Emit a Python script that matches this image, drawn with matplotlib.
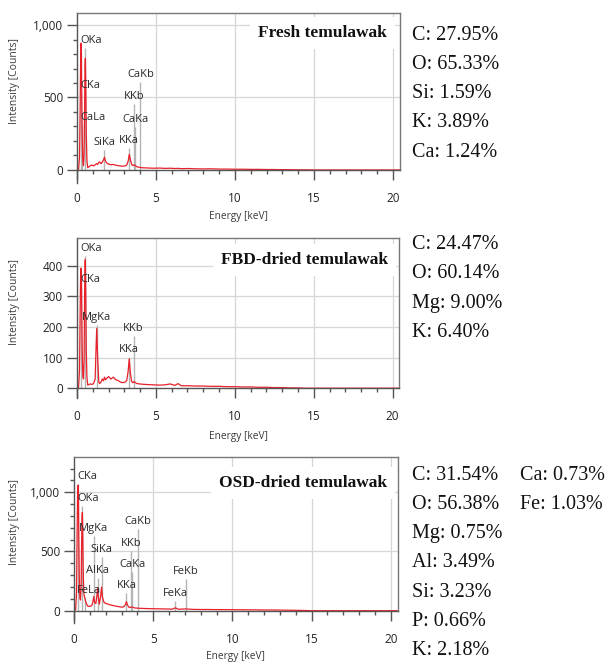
import matplotlib
matplotlib.use("Agg")
import matplotlib.pyplot as plt
from matplotlib.ticker import FixedLocator, FuncFormatter

W, H = 608, 662

# ---------------- data ----------------
energy = [0.00, 0.10, 0.16, 0.20, 0.23, 0.26, 0.28, 0.30, 0.33, 0.37,
          0.41, 0.45, 0.48, 0.51, 0.53, 0.56, 0.59, 0.63, 0.68, 0.75,
          0.85, 0.95, 1.05, 1.15, 1.20, 1.25, 1.30, 1.38, 1.44, 1.49,
          1.54, 1.60, 1.68, 1.74, 1.80, 1.90, 2.00, 2.15, 2.30, 2.45,
          2.60, 2.75, 2.90, 3.05, 3.15, 3.24, 3.31, 3.38, 3.46, 3.54,
          3.62, 3.70, 3.80, 3.95, 4.15, 4.40, 4.80, 5.20, 5.60, 5.90,
          6.20, 6.40, 6.60, 7.06, 7.50, 8.00, 8.50, 9.00, 9.50, 10.0,
          10.5, 11.0, 11.5, 12.0, 12.5, 13.0, 13.5, 14.0, 14.5, 15.0,
          20.4]

fresh_counts = [0, 4, 90, 420, 760, 875, 820, 520, 230, 60,
                30, 110, 420, 720, 770, 560, 240, 60, 15, 22,
                30, 34, 28, 36, 40, 44, 38, 52, 56, 46,
                44, 55, 70, 88, 62, 46, 40, 36, 38, 33,
                30, 27, 26, 28, 35, 62, 108, 70, 38, 30,
                36, 28, 22, 18, 15, 14, 12, 13, 11, 12,
                10, 11, 9, 10, 8, 7, 8, 6, 6, 5,
                5, 4, 4, 3, 3, 2, 2, 1, 1, 0,
                0]

fbd_counts = [0, 3, 60, 250, 370, 392, 380, 260, 120, 40,
              30, 90, 300, 415, 420, 300, 120, 35, 10, 12,
              14, 12, 15, 30, 120, 195, 110, 20, 15, 18,
              22, 30, 24, 36, 28, 33, 38, 30, 36, 28,
              25, 20, 18, 20, 25, 55, 96, 50, 22, 18,
              22, 18, 15, 14, 13, 12, 11, 10, 11, 14,
              9, 15, 8, 8, 7, 7, 6, 6, 5, 5,
              4, 4, 3, 3, 2, 2, 1, 1, 0, 0,
              0]

osd_counts = [0, 6, 150, 700, 1000, 1060, 980, 650, 300, 110,
              90, 200, 560, 800, 830, 600, 280, 140, 110, 70,
              40, 36, 38, 50, 80, 120, 70, 60, 120, 190,
              110, 55, 120, 200, 110, 70, 62, 55, 48, 44,
              40, 36, 32, 30, 34, 50, 76, 48, 30, 26,
              32, 30, 24, 22, 20, 19, 17, 16, 15, 14,
              13, 24, 12, 15, 11, 10, 10, 9, 9, 8,
              8, 7, 7, 6, 6, 5, 4, 3, 2, 0,
              0]

fresh_peaks = ["CKa", "CaLa", "OKa", "SiKa", "KKa", "CaKa", "KKb", "CaKb"]
fresh_peak_energy = [0.277, 0.341, 0.525, 1.740, 3.313, 3.691, 3.590, 4.013]
fresh_peak_height = [530, 310, 840, 140, 150, 297, 455, 607]

fbd_peaks = ["CKa", "OKa", "MgKa", "KKa", "KKb"]
fbd_peak_energy = [0.277, 0.525, 1.254, 3.313, 3.590]
fbd_peak_height = [330, 430, 205, 100, 169]

osd_peaks = ["CKa", "OKa", "FeLa", "MgKa", "AlKa", "SiKa", "KKa", "CaKa",
             "KKb", "CaKb", "FeKa", "FeKb"]
osd_peak_energy = [0.277, 0.525, 0.705, 1.254, 1.487, 1.740, 3.313, 3.691,
                   3.590, 4.013, 6.404, 7.058]
osd_peak_height = [1070, 887, 107, 634, 273, 451, 147, 324, 507, 690, 82, 265]

titles = ["Fresh temulawak", "FBD-dried temulawak", "OSD-dried temulawak"]

fresh_elements = ["C", "O", "Si", "K", "Ca"]
fresh_percent = [27.95, 65.33, 1.59, 3.89, 1.24]
fbd_elements = ["C", "O", "Mg", "K"]
fbd_percent = [24.47, 60.14, 9.00, 6.40]
osd_elements = ["C", "O", "Mg", "Al", "Si", "P", "K"]
osd_percent = [31.54, 56.38, 0.75, 3.49, 3.23, 0.66, 2.18]
osd_elements2 = ["Ca", "Fe"]
osd_percent2 = [0.73, 1.03]

x_major = [0, 5, 10, 15, 20]
x_minor = list(range(0, 21))

# ---------------- style ----------------
SANS = "Open Sans"
SERIF = "Liberation Serif"
RED = "#e8202a"
GRID = "#d6d6d6"
MARK = "#b4b4b4"
SPINE = "#555555"

fig = plt.figure(figsize=(W / 100, H / 100), dpi=100)
fig.patch.set_facecolor("white")


def rect(l, r, t, b):
    return [l / W, 1 - b / H, (r - l) / W, (b - t) / H]


def panel(box, xlim, ylim, counts, names, pe, ph, ymajor, yminor, title,
          title_px, ylab_y, xlab_y, xlab_x):
    l, r, t, b = box
    ax = fig.add_axes(rect(l, r, t, b))
    ax.set_xlim(*xlim)
    ax.set_ylim(*ylim)
    ymax = ylim[1]
    # grid
    ax.vlines(x_major[1:], 0, ymax, colors=GRID, lw=0.9, zorder=0.5)
    ax.hlines(ymajor[1:], 0, xlim[1], colors=GRID, lw=0.9, zorder=0.5)
    # peak markers
    ax.vlines(pe, 0, ph, colors=MARK, lw=1.0, zorder=1.5)
    for n, e, h in zip(names, pe, ph):
        if e < 1.0:
            ax.annotate(n, (0.2, h), xytext=(0, 1.5), textcoords="offset points",
                        ha="left", va="bottom", fontsize=8, family=SANS,
                        color="#2a2a2a", zorder=3)
        else:
            ax.annotate(n, (e, h), xytext=(0, 1.5), textcoords="offset points",
                        ha="center", va="bottom", fontsize=8, family=SANS,
                        color="#2a2a2a", zorder=3)
    # spectrum
    ax.plot(energy, counts, color=RED, lw=0.9, zorder=2, clip_on=True)
    # spines
    for s in ax.spines.values():
        s.set_color(SPINE)
        s.set_linewidth(1.0)
        s.set_zorder(6)
    ax.spines["top"].set_color("#777777")
    ax.spines["right"].set_color("#777777")
    ax.spines["bottom"].set_position(("data", 0))
    ax.spines["bottom"].set_bounds(0, xlim[1])
    ax.spines["right"].set_bounds(0, ymax)
    # ticks
    ax.xaxis.set_major_locator(FixedLocator(x_major))
    ax.xaxis.set_minor_locator(FixedLocator(x_minor))
    ax.yaxis.set_major_locator(FixedLocator(ymajor))
    ax.yaxis.set_minor_locator(FixedLocator(yminor))
    ax.yaxis.set_major_formatter(FuncFormatter(lambda v, p: f"{v:,.0f}"))
    ax.tick_params(axis="x", which="major", direction="out", length=7,
                   width=1, color=SPINE, pad=9, labelsize=8.5, labelcolor="#222222")
    ax.tick_params(axis="x", which="minor", direction="out", length=3,
                   width=1, color=SPINE)
    ax.tick_params(axis="y", which="major", direction="out", length=7,
                   width=1, color=SPINE, pad=3, labelsize=8.5, labelcolor="#222222")
    ax.tick_params(axis="y", which="minor", direction="out", length=3,
                   width=1, color=SPINE)
    for lab in ax.get_xticklabels() + ax.get_yticklabels():
        lab.set_family(SANS)
    # title with white box
    tx, ty = title_px
    ax.text((tx - l) / (r - l), (b - ty) / (b - t), title, transform=ax.transAxes,
            ha="right", va="center", fontsize=12.5, fontweight="bold",
            family=SERIF, color="#111111", zorder=5,
            bbox=dict(facecolor="white", edgecolor="none", pad=6))
    # axis labels
    fig.text(15 / W, 1 - ylab_y / H, "Intensity [Counts]", rotation=90,
             ha="center", va="center", fontsize=7.5, family=SANS, color="#3a3a3a")
    fig.text(xlab_x / W, 1 - xlab_y / H, "Energy [keV]", ha="center",
             va="center", fontsize=7.3, family=SANS, color="#3a3a3a")
    return ax


panel((77, 400, 13, 183), (0, 20.44), (-90, 1083), fresh_counts,
      fresh_peaks, fresh_peak_energy, fresh_peak_height,
      [0, 500, 1000], list(range(0, 1001, 100)), titles[0],
      (387, 33), 81, 217, 238)

panel((77, 399, 238, 398), (0, 20.4), (-32, 490), fbd_counts,
      fbd_peaks, fbd_peak_energy, fbd_peak_height,
      [0, 100, 200, 300, 400], [], titles[1],
      (388, 260), 302, 436, 238)

panel((74, 398, 457, 623), (0, 20.46), (-104, 1298), osd_counts,
      osd_peaks, osd_peak_energy, osd_peak_height,
      [0, 500, 1000], list(range(0, 1201, 100)), titles[2],
      (387, 483), 522, 657, 235)


def comp(x, y0, elements, percents):
    for i, (el, v) in enumerate(zip(elements, percents)):
        fig.text(x / W, 1 - (y0 + i * 29.3) / H, f"{el}: {v:.2f}%",
                 ha="left", va="baseline", fontsize=14.5, family=SERIF,
                 color="#111111")


comp(412, 39.5, fresh_elements, fresh_percent)
comp(412, 249, fbd_elements, fbd_percent)
comp(412, 479.5, osd_elements, osd_percent)
comp(520, 479.5, osd_elements2, osd_percent2)

fig.savefig("out.png", dpi=100, facecolor="white")
